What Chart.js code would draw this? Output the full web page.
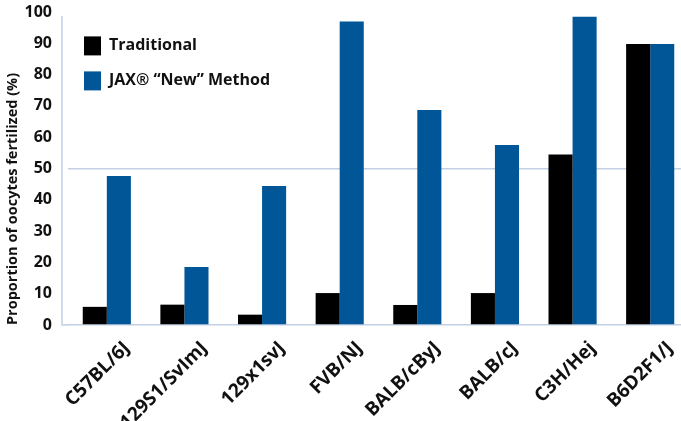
<!DOCTYPE html>
<html>
<head>
<meta charset="utf-8">
<script src="https://cdn.jsdelivr.net/npm/chart.js@4.4.1/dist/chart.umd.min.js"></script>
<style>
  html, body { margin: 0; padding: 0; background: #fff; overflow: hidden; }
  #wrap { position: relative; width: 690px; height: 421px; }
</style>
</head>
<body>
<div id="wrap"><canvas id="c" width="690" height="421"></canvas></div>
<script>
// Mouse strains tested
const strains = ['C57BL/6J', '129S1/SvImJ', '129x1svJ', 'FVB/NJ', 'BALB/cByJ', 'BALB/cJ', 'C3H/Hej', 'B6D2F1/J'];
// Percentage of oocytes fertilized, per method
const traditional = [5.8, 6.5, 3.3, 10.2, 6.4, 10.2, 54.5, 89.8];
const jaxNew = [47.6, 18.5, 44.4, 97, 68.7, 57.5, 98.5, 89.8];
// Y axis range and step
const yMin = 0, yMax = 100, yStep = 10;

const AXIS_COLOR = '#c3cfe2';
const FONT = '"Open Sans", "Noto Sans", sans-serif';

// Left axis line sits a little to the left of the category band
const leftAxisLine = {
  id: 'leftAxisLine',
  afterDraw(chart) {
    const { ctx, chartArea } = chart;
    const y = chart.scales.y;
    ctx.save();
    ctx.strokeStyle = AXIS_COLOR;
    ctx.lineWidth = 1.5;
    ctx.beginPath();
    ctx.moveTo(chartArea.left - 6, y.getPixelForValue(yMax) + 4);
    ctx.lineTo(chartArea.left - 6, y.getPixelForValue(yMin));
    ctx.lineTo(chartArea.left, y.getPixelForValue(yMin));
    ctx.stroke();
    ctx.restore();
  }
};

new Chart(document.getElementById('c'), {
  type: 'bar',
  data: {
    labels: strains,
    datasets: [
      { label: 'Traditional', data: traditional, backgroundColor: '#000000',
        categoryPercentage: 0.62, barPercentage: 1.0 },
      { label: 'JAX\u00AE \u201CNew\u201D Method', data: jaxNew, backgroundColor: '#005697',
        categoryPercentage: 0.62, barPercentage: 1.0 }
    ]
  },
  options: {
    responsive: false,
    animation: false,
    layout: { padding: { left: 2, top: 12, right: 1, bottom: 0 } },
    plugins: {
      tooltip: { enabled: false },
      legend: {
        position: 'chartArea',
        align: 'start',
        title: { display: true, text: ' ', padding: { top: 6, bottom: 0 }, font: { size: 12 } },
        labels: {
          boxWidth: 17,
          boxHeight: 19,
          padding: 16,
          color: '#111',
          font: { family: FONT, size: 16, weight: 'bold' }
        }
      }
    },
    scales: {
      x: {
        grid: { display: false, drawTicks: false },
        border: { display: true, color: AXIS_COLOR, width: 1.5 },
        ticks: {
          maxRotation: 45, minRotation: 45,
          autoSkip: false,
          padding: 12,
          labelOffset: 20,
          color: '#111',
          font: { family: FONT, size: 19, weight: 'bold' }
        },
        afterFit(scale) { scale.height = 96; }
      },
      y: {
        min: yMin, max: yMax,
        grid: {
          drawTicks: true,
          tickLength: 16,
          tickColor: 'rgba(0,0,0,0)',
          lineWidth: 1.5,
          color: (c) => (c.tick && c.tick.value === 50 ? AXIS_COLOR : 'rgba(0,0,0,0)')
        },
        border: { display: false },
        ticks: {
          stepSize: yStep,
          padding: 0,
          color: '#111',
          font: { family: FONT, size: 16, weight: 'bold' }
        },
        title: {
          display: true,
          text: 'Proportion of oocytes fertilized (%)',
          align: 'start',
          color: '#111',
          padding: { top: 2, bottom: 0 },
          font: { family: FONT, size: 14.5, weight: 'bold' }
        },
        afterFit(scale) { scale.width = 66; }
      }
    }
  },
  plugins: [leftAxisLine]
});
</script>
</body>
</html>
